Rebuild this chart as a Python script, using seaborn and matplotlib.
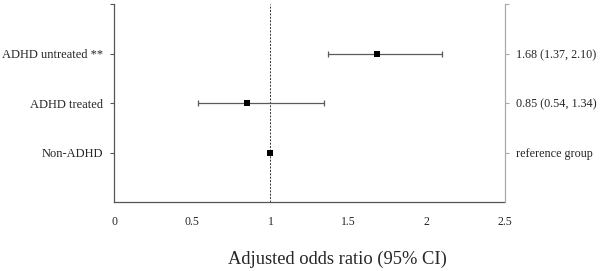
import matplotlib
matplotlib.use("Agg")
import matplotlib.pyplot as plt
import seaborn as sns
import numpy as np
import pandas as pd

# data
groups = ["ADHD untreated **", "ADHD treated", "Non-ADHD"]
odds_ratio = [1.68, 0.85, 1.00]
ci_low = [1.37, 0.54, np.nan]
ci_high = [2.10, 1.34, np.nan]
right_labels = ["1.68 (1.37, 2.10)", "0.85 (0.54, 1.34)", "reference group"]
x_ticks = [0, 0.5, 1, 1.5, 2, 2.5]
x_tick_labels = ["0", "0.5", "1", "1.5", "2", "2.5"]

df = pd.DataFrame({"group": groups, "or": odds_ratio, "lo": ci_low, "hi": ci_high})
df["row"] = [3, 2, 1]

sns.set_style("white")
plt.rcParams["font.family"] = ["Liberation Serif", "DejaVu Serif"]

fig = plt.figure(figsize=(6.02, 2.71), dpi=100)
ax = fig.add_axes([114 / 602, 1 - 202 / 271, 391 / 602, 198 / 271])

# reference line at OR = 1
ax.axvline(1, color="#333333", lw=0.7, ls=(0, (2, 1.5)), zorder=1)

# confidence intervals
err = np.array([df["or"] - df["lo"], df["hi"] - df["or"]])
ax.errorbar(df["or"], df["row"], xerr=err, fmt="none", ecolor="#5a5a5a",
            elinewidth=0.9, capsize=2.5, capthick=0.9, zorder=2)

# point estimates
sns.scatterplot(data=df, x="or", y="row", marker="s", s=25, color="black",
                edgecolor="black", linewidth=0, ax=ax, zorder=3)

ax.set_xlim(0, 2.5)
ax.set_ylim(0, 4)
ax.set_xticks(x_ticks)
ax.set_xticklabels(x_tick_labels, fontsize=8.5)
ax.tick_params(axis="x", length=0, pad=10)
ax.set_yticks([1, 2, 3, 4])
ax.set_yticklabels(groups[::-1] + [""], fontsize=9)
ax.tick_params(axis="y", length=3, width=0.8, color="#555555", pad=5)

ax.spines["top"].set_visible(False)
ax.spines["right"].set_visible(False)
ax.spines["left"].set_color("#555555")
ax.spines["bottom"].set_color("#555555")
ax.spines["left"].set_linewidth(0.9)
ax.spines["bottom"].set_linewidth(0.9)

# right axis with estimates
ax2 = ax.twinx()
ax2.set_ylim(0, 4)
ax2.set_yticks([1, 2, 3, 4])
ax2.set_yticklabels(right_labels[::-1] + [""], fontsize=8.7)
ax2.tick_params(axis="y", length=3, width=0.8, color="#aaaaaa", pad=5)
for side in ["top", "left", "bottom"]:
    ax2.spines[side].set_visible(False)
ax2.spines["right"].set_color("#aaaaaa")
ax2.spines["right"].set_linewidth(0.9)

ax.set_xlabel("Adjusted odds ratio (95% CI)", fontsize=13.3)
ax.set_ylabel("")
ax.xaxis.label.set_va("center")
ax.xaxis.set_label_coords((337 - 114) / 391, (202 - 259) / 198)

fig.savefig("out.png", dpi=100)
